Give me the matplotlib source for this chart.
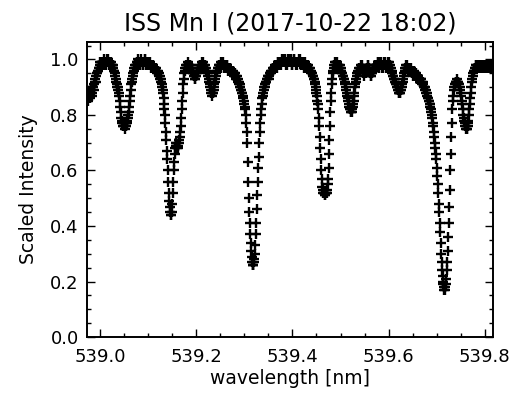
import numpy as np
import matplotlib
matplotlib.use('Agg')
import matplotlib.pyplot as plt
from matplotlib.ticker import MultipleLocator

# ISS spectrum around the Mn I 539.47 nm line
WL_START = 538.974   # nm, first sample
WL_STEP = 0.001      # nm per sample

intensity = [
    0.87, 0.85, 0.86, 0.88, 0.88, 0.86, 0.87, 0.89, 0.89, 0.87, 0.88, 0.90, 0.90, 0.89, 0.91, 0.92, 0.93, 0.92, 0.94, 0.95,
    0.95, 0.96, 0.96, 0.97, 0.97, 0.98, 0.98, 0.99, 0.99, 0.98, 0.99, 0.99, 0.98, 0.99, 1.00, 0.99, 0.99, 0.98, 0.98, 0.99,
    0.99, 1.00, 1.00, 0.99, 0.98, 0.99, 0.99, 0.98, 0.99, 0.98, 0.98, 0.98, 0.98, 0.97, 0.97, 0.96, 0.96, 0.95, 0.94, 0.93,
    0.92, 0.91, 0.90, 0.90, 0.89, 0.88, 0.87, 0.85, 0.83, 0.81, 0.79, 0.78, 0.77, 0.76, 0.76, 0.77, 0.76, 0.75, 0.77, 0.76,
    0.76, 0.77, 0.77, 0.78, 0.79, 0.80, 0.81, 0.83, 0.85, 0.87, 0.89, 0.91, 0.92, 0.93, 0.94, 0.95, 0.96, 0.97, 0.97, 0.98,
    0.98, 0.98, 0.99, 0.99, 0.98, 0.99, 1.00, 0.99, 0.99, 0.98, 0.98, 0.99, 1.00, 0.99, 0.99, 0.98, 0.98, 0.99, 0.99, 1.00,
    1.00, 0.99, 0.98, 0.99, 0.99, 0.98, 0.98, 0.99, 0.99, 0.98, 0.99, 0.98, 0.98, 0.97, 0.97, 0.98, 0.98, 0.97, 0.97, 0.97,
    0.97, 0.96, 0.97, 0.96, 0.96, 0.95, 0.96, 0.95, 0.95, 0.94, 0.94, 0.93, 0.93, 0.92, 0.91, 0.90, 0.89, 0.88, 0.86, 0.84,
    0.82, 0.80, 0.77, 0.74, 0.71, 0.67, 0.64, 0.60, 0.56, 0.52, 0.49, 0.47, 0.45, 0.44, 0.44, 0.45, 0.48, 0.52, 0.56, 0.60,
    0.63, 0.66, 0.68, 0.70, 0.70, 0.69, 0.69, 0.68, 0.68, 0.69, 0.70, 0.71, 0.72, 0.74, 0.76, 0.79, 0.82, 0.85, 0.88, 0.91,
    0.93, 0.95, 0.96, 0.97, 0.97, 0.98, 0.98, 0.98, 0.99, 0.98, 0.98, 0.97, 0.97, 0.98, 0.98, 0.97, 0.96, 0.97, 0.96, 0.95,
    0.95, 0.94, 0.94, 0.93, 0.93, 0.94, 0.94, 0.95, 0.95, 0.96, 0.96, 0.97, 0.97, 0.98, 0.98, 0.97, 0.97, 0.98, 0.99, 0.98,
    0.98, 0.99, 0.98, 0.97, 0.97, 0.98, 0.97, 0.96, 0.96, 0.95, 0.95, 0.94, 0.93, 0.92, 0.91, 0.90, 0.89, 0.88, 0.88, 0.87,
    0.88, 0.88, 0.89, 0.90, 0.91, 0.92, 0.93, 0.94, 0.95, 0.96, 0.96, 0.97, 0.97, 0.98, 0.98, 0.97, 0.98, 0.99, 0.97, 0.98,
    0.98, 0.98, 0.99, 0.98, 0.97, 0.98, 0.98, 0.97, 0.97, 0.98, 0.98, 0.97, 0.96, 0.97, 0.97, 0.96, 0.96, 0.97, 0.96, 0.96,
    0.96, 0.95, 0.95, 0.96, 0.95, 0.94, 0.94, 0.95, 0.94, 0.93, 0.93, 0.94, 0.93, 0.92, 0.92, 0.91, 0.91, 0.90, 0.90, 0.89,
    0.89, 0.88, 0.88, 0.87, 0.86, 0.85, 0.84, 0.83, 0.82, 0.80, 0.77, 0.74, 0.70, 0.63, 0.56, 0.50, 0.45, 0.41, 0.37, 0.34,
    0.31, 0.29, 0.27, 0.26, 0.26, 0.26, 0.27, 0.28, 0.30, 0.33, 0.37, 0.41, 0.46, 0.51, 0.56, 0.61, 0.65, 0.70, 0.74, 0.77,
    0.80, 0.82, 0.84, 0.86, 0.87, 0.88, 0.89, 0.90, 0.90, 0.91, 0.91, 0.92, 0.92, 0.93, 0.93, 0.94, 0.94, 0.93, 0.94, 0.95,
    0.95, 0.96, 0.95, 0.96, 0.96, 0.97, 0.96, 0.97, 0.97, 0.98, 0.97, 0.98, 0.98, 0.97, 0.98, 0.99, 0.99, 0.98, 0.98, 0.99,
    0.99, 0.98, 0.98, 0.99, 1.00, 0.99, 0.99, 1.00, 0.99, 0.99, 1.00, 0.99, 0.99, 0.98, 0.98, 0.99, 1.00, 0.99, 0.99, 1.00,
    0.99, 1.00, 1.00, 0.99, 0.99, 0.98, 0.98, 0.99, 0.99, 1.00, 1.00, 0.99, 0.99, 0.98, 0.99, 0.99, 0.98, 0.99, 0.99, 1.00,
    0.99, 0.99, 1.00, 0.99, 0.98, 0.99, 0.99, 0.98, 0.98, 0.99, 0.98, 0.97, 0.99, 0.98, 0.97, 0.98, 0.98, 0.97, 0.97, 0.98,
    0.97, 0.96, 0.97, 0.96, 0.96, 0.95, 0.95, 0.95, 0.94, 0.94, 0.93, 0.93, 0.92, 0.91, 0.90, 0.89, 0.88, 0.87, 0.85, 0.84,
    0.82, 0.79, 0.76, 0.72, 0.68, 0.64, 0.60, 0.57, 0.54, 0.53, 0.52, 0.52, 0.52, 0.51, 0.51, 0.52, 0.52, 0.52, 0.53, 0.55,
    0.57, 0.61, 0.66, 0.71, 0.76, 0.81, 0.85, 0.88, 0.91, 0.93, 0.95, 0.96, 0.97, 0.98, 0.98, 0.99, 0.99, 0.98, 0.98, 0.99,
    0.98, 0.97, 0.97, 0.98, 0.98, 0.97, 0.96, 0.97, 0.96, 0.95, 0.95, 0.94, 0.94, 0.93, 0.93, 0.92, 0.91, 0.90, 0.89, 0.88,
    0.87, 0.86, 0.85, 0.84, 0.83, 0.82, 0.82, 0.81, 0.81, 0.81, 0.82, 0.83, 0.84, 0.85, 0.87, 0.88, 0.90, 0.91, 0.92, 0.93,
    0.94, 0.95, 0.95, 0.96, 0.96, 0.97, 0.97, 0.96, 0.97, 0.98, 0.98, 0.97, 0.96, 0.95, 0.95, 0.94, 0.95, 0.96, 0.96, 0.95,
    0.96, 0.97, 0.97, 0.98, 0.98, 0.97, 0.96, 0.95, 0.95, 0.94, 0.94, 0.95, 0.95, 0.96, 0.96, 0.97, 0.97, 0.98, 0.98, 0.97,
    0.97, 0.98, 0.98, 0.99, 0.99, 0.98, 0.97, 0.98, 0.98, 0.99, 0.99, 0.98, 0.98, 0.97, 0.97, 0.98, 0.98, 0.99, 0.99, 0.98,
    0.98, 0.97, 0.97, 0.98, 0.98, 0.99, 0.99, 0.98, 0.97, 0.98, 0.97, 0.96, 0.96, 0.95, 0.95, 0.94, 0.94, 0.93, 0.93, 0.92,
    0.92, 0.91, 0.91, 0.90, 0.90, 0.89, 0.89, 0.88, 0.88, 0.88, 0.88, 0.89, 0.89, 0.90, 0.91, 0.92, 0.93, 0.94, 0.95, 0.96,
    0.96, 0.97, 0.97, 0.98, 0.98, 0.97, 0.96, 0.97, 0.97, 0.96, 0.96, 0.97, 0.97, 0.96, 0.95, 0.96, 0.95, 0.94, 0.96, 0.95,
    0.94, 0.95, 0.95, 0.94, 0.94, 0.93, 0.93, 0.94, 0.94, 0.93, 0.93, 0.92, 0.92, 0.93, 0.93, 0.92, 0.91, 0.92, 0.91, 0.90,
    0.90, 0.90, 0.89, 0.89, 0.88, 0.88, 0.87, 0.86, 0.86, 0.85, 0.85, 0.84, 0.84, 0.83, 0.82, 0.81, 0.80, 0.79, 0.77, 0.76,
    0.74, 0.72, 0.70, 0.68, 0.66, 0.64, 0.61, 0.58, 0.55, 0.52, 0.48, 0.45, 0.41, 0.38, 0.34, 0.30, 0.27, 0.24, 0.22, 0.20,
    0.19, 0.18, 0.17, 0.17, 0.18, 0.19, 0.21, 0.24, 0.27, 0.31, 0.36, 0.41, 0.47, 0.53, 0.60, 0.66, 0.72, 0.77, 0.82, 0.85,
    0.87, 0.89, 0.90, 0.91, 0.91, 0.92, 0.92, 0.92, 0.92, 0.93, 0.92, 0.92, 0.91, 0.91, 0.90, 0.89, 0.88, 0.87, 0.85, 0.84,
    0.82, 0.80, 0.79, 0.78, 0.77, 0.76, 0.76, 0.75, 0.75, 0.75, 0.76, 0.77, 0.78, 0.80, 0.82, 0.84, 0.86, 0.88, 0.90, 0.92,
    0.93, 0.94, 0.95, 0.96, 0.96, 0.97, 0.97, 0.98, 0.98, 0.97, 0.97, 0.98, 0.98, 0.97, 0.97, 0.98, 0.97, 0.97, 0.98, 0.97,
    0.97, 0.98, 0.97, 0.97, 0.98, 0.97, 0.97, 0.98, 0.97, 0.97, 0.98, 0.97, 0.97, 0.98, 0.98, 0.97, 0.97, 0.98, 0.97, 0.98,
    0.98, 0.97, 0.97, 0.98, 0.97,
]

x_ticks = [539.0, 539.2, 539.4, 539.6, 539.8]
y_ticks = [0.0, 0.2, 0.4, 0.6, 0.8, 1.0]

title = 'ISS Mn I (2017-10-22 18:02)'
x_label = 'wavelength [nm]'
y_label = 'Scaled Intensity'

wavelength = WL_START + WL_STEP * np.arange(len(intensity))

fig = plt.figure(figsize=(5.14, 3.97), dpi=100)
ax = fig.add_axes([0.1693, 0.1511, 0.7899, 0.7431])

ax.plot(wavelength, intensity, linestyle='none', marker='+',
        markersize=6.5, markeredgewidth=1.7, color='black')

ax.set_xlim(538.973, 539.817)
ax.set_ylim(0.0, 1.063)
ax.set_xticks(x_ticks)
ax.set_xticklabels([f'{t:.1f}' for t in x_ticks])
ax.set_yticks(y_ticks)
ax.set_yticklabels([f'{t:.1f}' for t in y_ticks])
ax.xaxis.set_minor_locator(MultipleLocator(0.05))
ax.yaxis.set_minor_locator(MultipleLocator(0.05))

ax.tick_params(which='both', direction='in', top=True, right=True,
               width=1.0, color='black', labelsize=13)
ax.tick_params(which='major', length=6)
ax.tick_params(which='minor', length=3)
ax.tick_params(axis='x', which='major', pad=8)
ax.tick_params(axis='y', which='major', pad=6)
for spine in ax.spines.values():
    spine.set_linewidth(1.4)

ax.set_title(title, fontsize=17, pad=8)
ax.set_xlabel(x_label, fontsize=13.5, labelpad=2)
ax.set_ylabel(y_label, fontsize=13.5, labelpad=9)

fig.savefig('out.png', dpi=100)
